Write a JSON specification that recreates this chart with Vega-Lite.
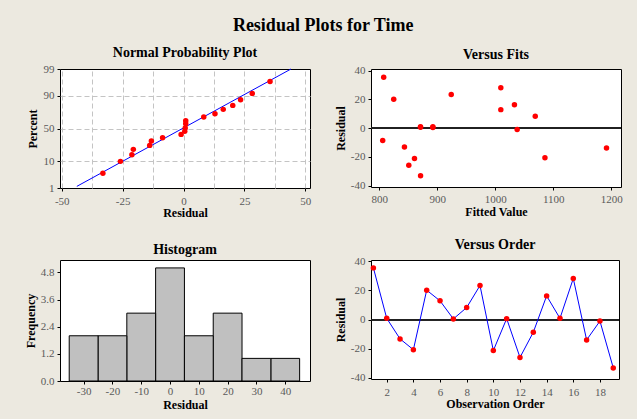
{
  "$schema": "https://vega.github.io/schema/vega-lite/v6.json",
  "background": "#ECE9E0",
  "padding": {"left": 23, "top": 16, "right": 18, "bottom": 8},
  "title": {"text": "Residual Plots for Time", "fontSize": 18, "font": "Liberation Serif", "fontWeight": "bold", "anchor": "middle", "offset": 11, "color": "#000"},
  "datasets": {
    "obs": [
      {"obs": 1, "fit": 807.5, "resid": 35.5, "z": 1.842},
      {"obs": 2, "fit": 871.0, "resid": 0.9, "z": 0.188},
      {"obs": 3, "fit": 843.3, "resid": -13.2, "z": -0.49},
      {"obs": 4, "fit": 1085.6, "resid": -20.6, "z": -0.816},
      {"obs": 5, "fit": 824.8, "resid": 20.2, "z": 0.904},
      {"obs": 6, "fit": 1009.5, "resid": 12.9, "z": 0.579},
      {"obs": 7, "fit": 892.3, "resid": 0.5, "z": -0.112},
      {"obs": 8, "fit": 1068.9, "resid": 8.3, "z": 0.448},
      {"obs": 9, "fit": 924.0, "resid": 23.4, "z": 1.126},
      {"obs": 10, "fit": 860.6, "resid": -21.2, "z": -1.024},
      {"obs": 11, "fit": 871.0, "resid": 0.7, "z": 0.018},
      {"obs": 12, "fit": 850.8, "resid": -25.9, "z": -1.285},
      {"obs": 13, "fit": 805.8, "resid": -8.6, "z": -0.36},
      {"obs": 14, "fit": 1033.0, "resid": 16.3, "z": 0.748},
      {"obs": 15, "fit": 892.3, "resid": 0.9, "z": 0.305},
      {"obs": 16, "fit": 1009.5, "resid": 28.2, "z": 1.373},
      {"obs": 17, "fit": 1191.8, "resid": -13.9, "z": -0.66},
      {"obs": 18, "fit": 1037.7, "resid": -1.0, "z": -0.23},
      {"obs": 19, "fit": 871.1, "resid": -33.1, "z": -1.754}
    ],
    "fitline": [
      {"resid": -43.8, "z": -2.263},
      {"resid": 44.1, "z": 2.326}
    ]
  },
  "columns": 2,
  "bounds": "flush",
  "spacing": {"row": 72, "column": 61},
  "concat": [
    {
      "width": 250, "height": 119,
      "title": "Normal Probability Plot",
      "layer": [
        {
          "data": {"name": "fitline"},
          "mark": {"type": "line", "color": "#0000FF", "strokeWidth": 1},
          "encoding": {
            "x": {"field": "resid", "type": "quantitative", "scale": {"domain": [-50.7, 51.9], "nice": false, "zero": false},
              "axis": {"orient": "top", "values": [-50, -37.5, -25, -12.5, 0, 12.5, 25, 37.5, 50], "tickCount": 50, "grid": true, "labels": false, "ticks": false, "domain": false, "title": null, "gridColor": "#C4C4C4", "gridDash": [5, 3]}},
            "y": {"field": "z", "type": "quantitative"}
          }
        },
        {
          "data": {"name": "obs"},
          "mark": {"type": "point", "filled": true, "color": "#FF0000", "size": 30, "opacity": 1},
          "encoding": {
            "x": {"field": "resid", "type": "quantitative",
              "axis": {"orient": "bottom", "values": [-50, -25, 0, 25, 50], "tickCount": 50, "title": "Residual", "titleY": 28, "titleBaseline": "alphabetic", "labelPadding": 4}},
            "y": {"field": "z", "type": "quantitative", "scale": {"domain": [-2.3263, 2.3263], "nice": false, "zero": false},
              "axis": {"values": [-2.3263, -1.2816, 0, 1.2816, 2.3263], "tickCount": 50, "labelExpr": "datum.value < -2 ? '1' : datum.value < -1 ? '10' : datum.value < 1 ? '50' : datum.value < 2 ? '90' : '99'",
                "grid": true, "gridColor": "#C4C4C4", "gridDash": [5, 3], "gridOpacity": {"condition": {"test": "abs(datum.value) > 2.3", "value": 0}, "value": 1},
                "title": "Percent", "titleX": -28, "titleBaseline": "middle"}}
          }
        }
      ],
      "resolve": {"axis": {"x": "independent"}}
    },
    {
      "width": 250, "height": 118,
      "title": "Versus Fits",
      "data": {"name": "obs"},
      "layer": [
        {
          "mark": {"type": "rule", "color": "#222", "strokeWidth": 1},
          "encoding": {"y": {"datum": 0, "type": "quantitative"}}
        },
        {
          "mark": {"type": "point", "filled": true, "color": "#FF0000", "size": 30, "opacity": 1},
          "encoding": {
            "x": {"field": "fit", "type": "quantitative", "scale": {"domain": [785.6, 1216.8], "nice": false, "zero": false},
              "axis": {"values": [800, 900, 1000, 1100, 1200], "tickCount": 50, "title": "Fitted Value", "titleY": 28, "titleBaseline": "alphabetic", "labelPadding": 3}},
            "y": {"field": "resid", "type": "quantitative", "scale": {"domain": [-41, 41.2], "nice": false, "zero": false},
              "axis": {"values": [-40, -20, 0, 20, 40], "tickCount": 50, "title": "Residual", "titleX": -31, "titleBaseline": "middle"}}
          }
        }
      ]
    },
    {
      "width": 250, "height": 121,
      "title": "Histogram",
      "data": {"name": "obs"},
      "transform": [
        {"bin": {"extent": [-35, 45], "step": 10, "nice": false}, "field": "resid", "as": ["b0", "b1"]},
        {"aggregate": [{"op": "count", "as": "n"}], "groupby": ["b0", "b1"]}
      ],
      "mark": {"type": "rect", "fill": "#C0C0C0", "stroke": "#000", "strokeWidth": 1},
      "encoding": {
        "x": {"field": "b0", "type": "quantitative", "scale": {"domain": [-38.2, 48.6], "nice": false, "zero": false},
          "axis": {"values": [-30, -20, -10, 0, 10, 20, 30, 40], "tickCount": 50, "title": "Residual", "titleY": 27, "titleBaseline": "alphabetic", "labelPadding": 1}},
        "x2": {"field": "b1"},
        "y": {"field": "n", "type": "quantitative", "scale": {"domain": [0, 5.35], "nice": false, "zero": true},
          "axis": {"values": [0, 1.2, 2.4, 3.6, 4.8], "tickCount": 50, "labelExpr": "format(datum.value, '.1f')", "title": "Frequency", "titleX": -30, "titleBaseline": "middle"}}
      }
    },
    {
      "width": 248, "height": 119,
      "title": "Versus Order",
      "data": {"name": "obs"},
      "layer": [
        {
          "mark": {"type": "rule", "color": "#222", "strokeWidth": 1},
          "encoding": {"y": {"datum": 0, "type": "quantitative"}}
        },
        {
          "mark": {"type": "line", "color": "#0000FF", "strokeWidth": 1},
          "encoding": {
            "x": {"field": "obs", "type": "quantitative"},
            "y": {"field": "resid", "type": "quantitative"}
          }
        },
        {
          "mark": {"type": "point", "filled": true, "color": "#FF0000", "size": 30, "opacity": 1},
          "encoding": {
            "x": {"field": "obs", "type": "quantitative", "scale": {"domain": [0.82, 19.43], "nice": false, "zero": false},
              "axis": {"values": [2, 4, 6, 8, 10, 12, 14, 16, 18], "tickCount": 50, "title": "Observation Order", "titleY": 28, "titleBaseline": "alphabetic", "labelPadding": 4}},
            "y": {"field": "resid", "type": "quantitative", "scale": {"domain": [-40.7, 40.9], "nice": false, "zero": false},
              "axis": {"values": [-40, -20, 0, 20, 40], "tickCount": 50, "title": "Residual", "titleX": -31, "titleBaseline": "middle"}}
          }
        }
      ]
    }
  ],
  "config": {
    "font": "Liberation Serif",
    "view": {"stroke": "#000", "strokeWidth": 1, "fill": "#FFFFFF"},
    "title": {"font": "Liberation Serif", "fontSize": 14, "fontWeight": "bold", "color": "#000", "offset": 3},
    "axis": {
      "labelFont": "Liberation Serif", "labelFontSize": 11, "labelColor": "#5A5A5A",
      "titleFont": "Liberation Serif", "titleFontSize": 12, "titleFontWeight": "bold", "titleColor": "#000",
      "tickColor": "#000", "tickSize": 3, "domain": false, "grid": false, "labelPadding": 3,
      "labelOverlap": false, "labelFlush": false, "labelExpr": "'' + datum.value"
    }
  }
}
